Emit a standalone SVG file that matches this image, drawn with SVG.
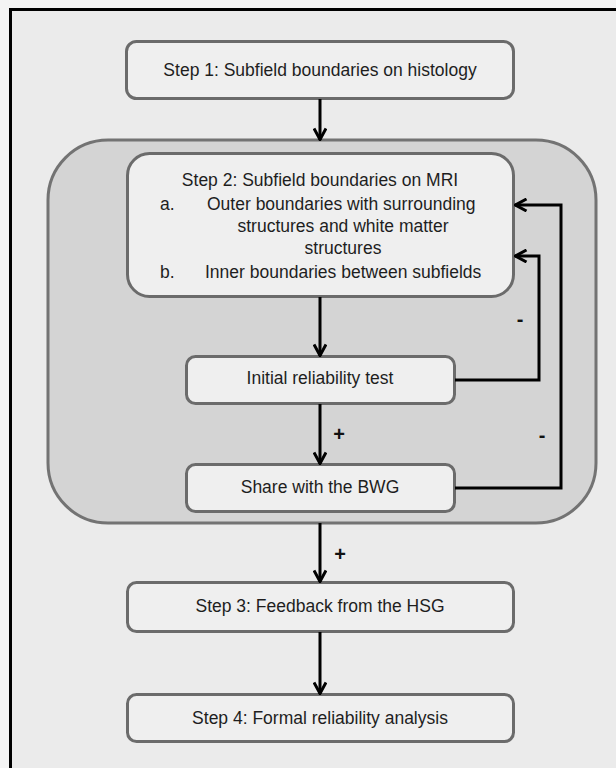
<svg xmlns="http://www.w3.org/2000/svg" width="616" height="768" viewBox="0 0 616 768">
<style>
.box{fill:#efefef;stroke:#6b6b6b;stroke-width:3}
.t{font-family:"Liberation Sans",Arial,sans-serif;font-size:17.5px;fill:#1e1e1e}
.c{text-anchor:middle}
.sg{font-family:"Liberation Sans",Arial,sans-serif;font-size:20px;font-weight:bold;fill:#111;text-anchor:middle}
.ln{fill:none;stroke:#000;stroke-width:3}
</style>
<defs>
<marker id="ah" viewBox="0 0 14 14" refX="13" refY="7" markerWidth="14" markerHeight="14" markerUnits="userSpaceOnUse" orient="auto">
<path d="M1.5,1 L12.5,7 L1.5,13" fill="none" stroke="#000" stroke-width="3"/>
</marker>
</defs>
<rect x="0" y="0" width="616" height="768" fill="#f4f4f4"/>
<rect x="10.5" y="9.5" width="620" height="770" fill="#ebebeb" stroke="#000" stroke-width="3"/>
<g id="container">
<rect x="48" y="140" width="548" height="383" rx="60" fill="#d4d4d4" stroke="#737373" stroke-width="3"/>
</g>
<g id="step1">
<rect class="box" x="126.5" y="41.5" width="387" height="57" rx="10"/>
<text class="t c" x="320" y="76">Step 1: Subfield boundaries on histology</text>
</g>
<g id="step2">
<rect class="box" x="127.5" y="153.5" width="386" height="143" rx="22"/>
<text class="t c" x="320" y="186">Step 2: Subfield boundaries on MRI</text>
<text class="t" x="160" y="210">a.</text>
<text class="t" x="207" y="210">Outer boundaries with surrounding</text>
<text class="t c" x="343" y="232">structures and white matter</text>
<text class="t c" x="343" y="254">structures</text>
<text class="t" x="160" y="278">b.</text>
<text class="t" x="205" y="278">Inner boundaries between subfields</text>
</g>
<g id="initial">
<rect class="box" x="186.5" y="356.5" width="268" height="47" rx="9"/>
<text class="t c" x="320" y="384">Initial reliability test</text>
</g>
<g id="share">
<rect class="box" x="186.5" y="464.5" width="268" height="47" rx="9"/>
<text class="t c" x="320" y="493">Share with the BWG</text>
</g>
<g id="step3">
<rect class="box" x="127.5" y="582.5" width="386" height="49" rx="9"/>
<text class="t c" x="320" y="612">Step 3: Feedback from the HSG</text>
</g>
<g id="step4">
<rect class="box" x="127.5" y="694.5" width="386" height="47" rx="9"/>
<text class="t c" x="320" y="724">Step 4: Formal reliability analysis</text>
</g>
<g id="connectors">
<line class="ln" x1="320" y1="99" x2="320" y2="140" marker-end="url(#ah)"/>
<line class="ln" x1="320" y1="297" x2="320" y2="356" marker-end="url(#ah)"/>
<line class="ln" x1="320" y1="404" x2="320" y2="464" marker-end="url(#ah)"/>
<line class="ln" x1="320" y1="523" x2="320" y2="582" marker-end="url(#ah)"/>
<line class="ln" x1="320" y1="632" x2="320" y2="694" marker-end="url(#ah)"/>
<polyline class="ln" points="455,380 539,380 539,256 515,256" marker-end="url(#ah)"/>
<polyline class="ln" points="455,488 561,488 561,205 515,205" marker-end="url(#ah)"/>
<text class="sg" x="339" y="441">+</text>
<text class="sg" x="340" y="561">+</text>
<text class="sg" x="520" y="326">-</text>
<text class="sg" x="542" y="442">-</text>
</g>
</svg>
